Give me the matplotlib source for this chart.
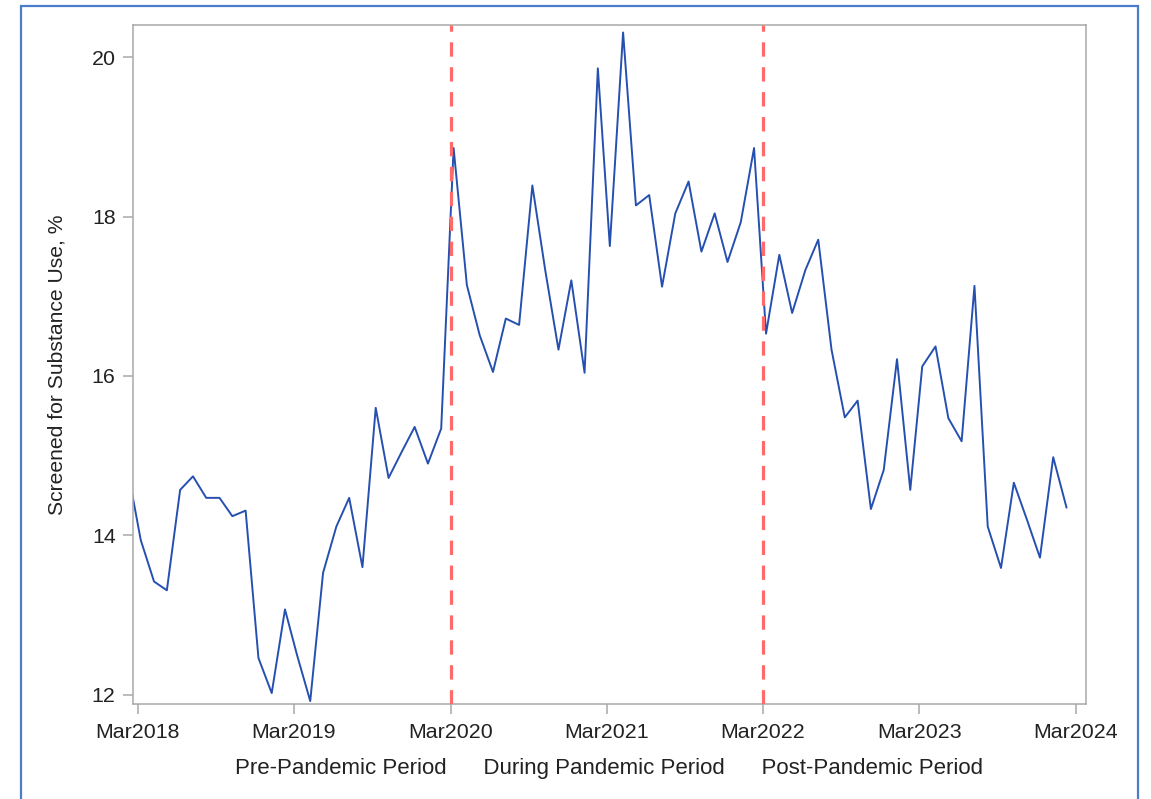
import pandas as pd
import matplotlib.pyplot as plt
import matplotlib.dates as mdates
from matplotlib.patches import Rectangle

# monthly share screened for substance use, Feb 2018 - Feb 2024
months = pd.date_range("2018-02-01", "2024-02-01", freq="MS") + pd.Timedelta(days=7)
screened = [
    14.75, 13.94, 13.42, 13.31, 14.57, 14.74, 14.47, 14.47, 14.24, 14.31, 12.46,
    12.02, 13.07, 12.50, 11.92, 13.53, 14.11, 14.47, 13.60, 15.60, 14.72, 15.05, 15.36,
    14.90, 15.34, 18.86, 17.14, 16.51, 16.05, 16.72, 16.64, 18.39, 17.33, 16.33, 17.20,
    16.04, 19.86, 17.63, 20.31, 18.14, 18.27, 17.12, 18.04, 18.44, 17.56, 18.04, 17.43,
    17.93, 18.86, 16.53, 17.52, 16.79, 17.33, 17.71, 16.33, 15.48, 15.69, 14.33, 14.82,
    16.21, 14.57, 16.12, 16.37, 15.47, 15.18, 17.13, 14.11, 13.59, 14.66, 14.19, 13.72,
    14.98, 14.35,
]
period_breaks = pd.to_datetime(["2020-03-01", "2022-03-01"])
period_names = ["Pre-Pandemic Period", "During Pandemic Period", "Post-Pandemic Period"]
tick_dates = pd.date_range("2018-03-01", "2024-03-01", freq="12MS")
y_ticks = [12, 14, 16, 18, 20]

plt.rcParams['font.family'] = ['Liberation Sans', 'DejaVu Sans']
plt.rcParams['font.size'] = 15.4
text_color = '#222222'
grey = '#A8A8A8'

fig = plt.figure(figsize=(11.51, 7.99), dpi=100)
ax = fig.add_axes([0.1156, 0.1189, 0.8277, 0.8504])

ax.plot(months, screened, color='#2650B0', lw=1.4, zorder=2)
for d in period_breaks:
    ax.axvline(d, color='#FF6B6B', lw=2.3, dashes=(4.5, 3.3), zorder=3)

ax.set_xlim(pd.Timestamp("2018-02-18"), pd.Timestamp("2024-03-24"))
ax.set_ylim(11.883, 20.41)
ax.set_xticks(tick_dates)
ax.xaxis.set_major_formatter(mdates.DateFormatter('%b%Y'))
ax.set_yticks(y_ticks)

for s in ax.spines.values():
    s.set_color(grey)
    s.set_linewidth(1.1)
ax.tick_params(axis='both', colors=grey, labelcolor=text_color, length=7, width=1.1)
ax.tick_params(axis='x', pad=7)
ax.tick_params(axis='y', pad=5.5)

ax.set_ylabel("Screened for Substance Use, %", color=text_color, fontsize=15.2)
ax.yaxis.set_label_coords(-0.0700, 0.5)
ax.set_xlabel("      ".join(period_names), color=text_color, fontsize=16, labelpad=11)

# outer panel border
fig.add_artist(Rectangle((0.0182, -0.05), 0.9705, 1.0425, transform=fig.transFigure,
                         fill=False, edgecolor='#4A7CC9', lw=1.6))

fig.savefig('out.png', dpi=100)
